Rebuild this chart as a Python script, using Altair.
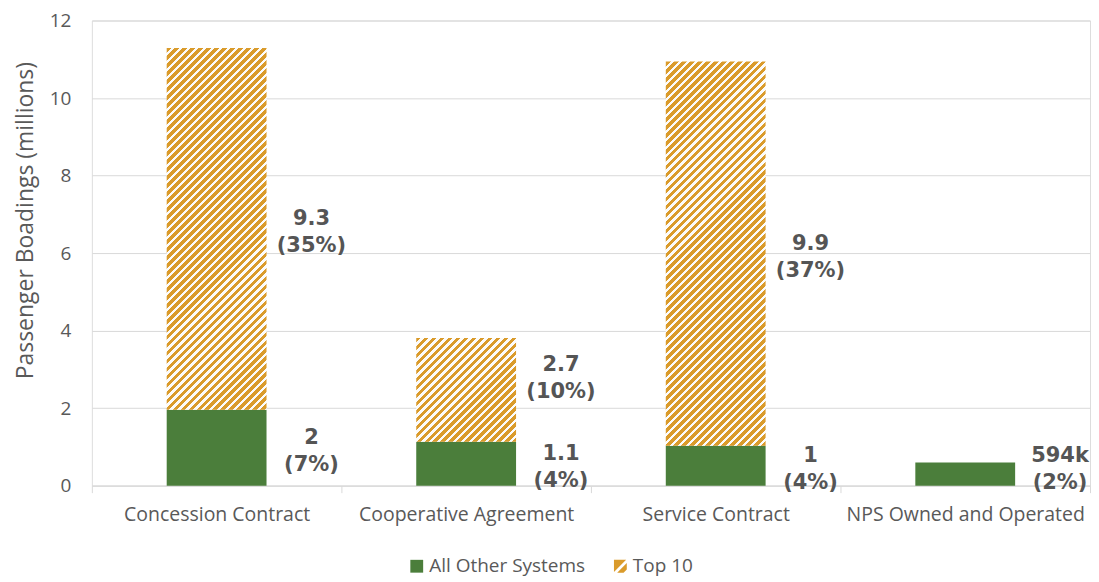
import altair as alt
import pandas as pd

categories = ["Concession Contract", "Cooperative Agreement", "Service Contract", "NPS Owned and Operated"]
series = ["All Other Systems", "Top 10"]
other_values = [1.96, 1.13, 1.03, 0.594]
top10_values = [9.33, 2.68, 9.91, 0.0]
other_labels = ["2\n(7%)", "1.1\n(4%)", "1\n(4%)", "594k\n(2%)"]
top10_labels = ["9.3\n(35%)", "2.7\n(10%)", "9.9\n(37%)", ""]
y_ticks = [0, 2, 4, 6, 8, 10, 12]

GREEN = "#4b7e3b"
ORANGE = "#da9b2b"
TEXT = "#595959"
GRID = "#d9d9d9"
FONT = "Open Sans"

PLOT_W = 1000
PLOT_H = 466
BAR_W = 100
Y_MAX = 12

rows = []
for c, o, t, ol, tl in zip(categories, other_values, top10_values, other_labels, top10_labels):
    rows.append({"category": c, "series": series[0], "start": 0.0, "end": o, "label": ol})
    rows.append({"category": c, "series": series[1], "start": o, "end": o + t, "label": tl})
df = pd.DataFrame(rows)
df["mid"] = (df["start"] + df["end"]) / 2


def stripe_gradient(w, h, period=8.0, frac=0.6):
    r = w / h
    vy = (1 + r) / (1 + r * r)
    vx = r * vy
    n = (w + h) / period
    stops = []
    k = 0
    while k < n:
        a = k / n
        b = min((k + frac) / n, 1.0)
        c = min((k + 1) / n, 1.0)
        stops += [
            alt.GradientStop(offset=a, color=ORANGE),
            alt.GradientStop(offset=b, color=ORANGE),
            alt.GradientStop(offset=b, color="#fbfbfb"),
            alt.GradientStop(offset=c, color="#fbfbfb"),
        ]
        k += 1
    return alt.LinearGradient(gradient="linear", stops=stops, x1=0, y1=0, x2=vx, y2=vy)


x_enc = alt.X(
    "category:N",
    sort=categories,
    scale=alt.Scale(paddingInner=0, paddingOuter=0),
    axis=alt.Axis(
        title=None,
        tickBand="extent",
        labelAngle=0,
        labelFontSize=19.5,
        labelFont=FONT,
        labelColor=TEXT,
        labelPadding=13,
        labelLimit=0,
        domainColor=GRID,
        tickColor=GRID,
        tickSize=7,
        grid=False,
    ),
)
y_scale = alt.Scale(domain=[0, Y_MAX], nice=False)
y_axis = alt.Axis(
    values=y_ticks,
    title="Passenger Boadings (millions)",
    titleFontSize=23,
    titleFont=FONT,
    titleFontWeight="normal",
    titleColor=TEXT,
    titlePadding=12,
    titleY=200,
    labelFontSize=19,
    labelFont=FONT,
    labelColor=TEXT,
    labelPadding=21,
    grid=True,
    gridColor=GRID,
    domain=False,
    ticks=False,
)

base = alt.Chart(df)

other_bars = base.transform_filter(alt.datum.series == series[0]).mark_bar(
    size=BAR_W, color=GREEN
).encode(
    x=x_enc,
    y=alt.Y("start:Q", scale=y_scale, axis=y_axis),
    y2="end:Q",
)

top_layers = []
for c, t in zip(categories, top10_values):
    if t <= 0:
        continue
    h = t / Y_MAX * PLOT_H
    top_layers.append(
        base.transform_filter((alt.datum.series == series[1]) & (alt.datum.category == c))
        .mark_bar(size=BAR_W, color=stripe_gradient(BAR_W, h))
        .encode(x=x_enc, y=alt.Y("start:Q", scale=y_scale, axis=y_axis), y2="end:Q")
    )

labels = base.transform_filter(alt.datum.label != "").transform_calculate(
    ly="datum.start > 0 ? max(datum.mid, datum.start + 1.72) : max(datum.mid, 0.515)"
).mark_text(
    align="center",
    baseline="middle",
    dx=95,
    dy=-10,
    fontSize=21,
    fontWeight="bold",
    font="DejaVu Sans",
    color="#555555",
    lineBreak="\n",
    lineHeight=27,
).encode(
    x=x_enc,
    y=alt.Y("ly:Q", scale=y_scale, axis=y_axis),
    text="label:N",
)

STRIPE_PATH = "M-1,-1L0.9,-1L-1,0.9Z M1,-0.5L1,0.5L0.5,1L-0.5,1Z"
legend_kw = dict(
    title=None,
    orient="none",
    legendX=316,
    legendY=537,
    direction="horizontal",
    labelFontSize=19,
    labelFont=FONT,
    labelColor=TEXT,
    symbolSize=165,
    symbolOpacity=1,
    symbolStrokeWidth=0,
    columnPadding=25,
    labelOffset=3,
)
legend_df = pd.DataFrame({"series": series, "category": [categories[3], categories[3]], "v": [0.0, 0.0]})
legend_layer = alt.Chart(legend_df).mark_point(filled=True, opacity=0, size=1).encode(
    x=x_enc,
    y=alt.Y("v:Q", scale=y_scale, axis=y_axis),
    color=alt.Color("series:N", scale=alt.Scale(domain=series, range=[GREEN, ORANGE]), legend=alt.Legend(**legend_kw)),
    shape=alt.Shape("series:N", scale=alt.Scale(domain=series, range=["square", STRIPE_PATH]), legend=alt.Legend(**legend_kw)),
)

chart = alt.layer(other_bars, *top_layers, labels, legend_layer).properties(
    width=PLOT_W,
    height=PLOT_H,
    padding={"left": 6, "right": 0, "top": 3, "bottom": 0},
).configure_view(stroke=None).configure(background="white")

chart.save("out.html", embed_options={"renderer": "svg", "actions": False})
